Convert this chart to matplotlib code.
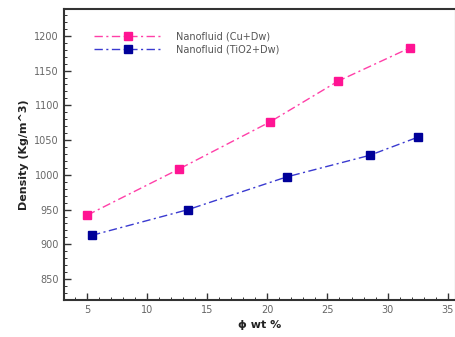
import matplotlib.pyplot as plt
from matplotlib.ticker import MultipleLocator

# Cu + Dw nanofluid
wt_cu = [5.0, 12.6, 20.2, 25.9, 31.9]
rho_cu = [942, 1008, 1076, 1135, 1183]

# TiO2 + Dw nanofluid
wt_tio2 = [5.4, 13.4, 21.6, 28.5, 32.5]
rho_tio2 = [913, 950, 997, 1028, 1054]

fig = plt.figure(figsize=(4.56, 3.37), dpi=100)
ax = fig.add_axes([0.140, 0.110, 0.860, 0.862])

dashdot = (0, (6, 2.5, 1.5, 2.5))
ax.plot(wt_cu, rho_cu, linestyle=dashdot, color='#ff3fa8', lw=1.0,
        marker='s', markersize=6, markerfacecolor='#ff1493',
        markeredgecolor='#ff1493', label='Nanofluid (Cu+Dw)')
ax.plot(wt_tio2, rho_tio2, linestyle=dashdot, color='#3a3ad0', lw=1.0,
        marker='s', markersize=6, markerfacecolor='#000099',
        markeredgecolor='#000099', label='Nanofluid (TiO2+Dw)')

ax.set_xlim(3.05, 35.7)
ax.set_ylim(820, 1238)
ax.xaxis.set_major_locator(MultipleLocator(5))
ax.xaxis.set_minor_locator(MultipleLocator(1))
ax.yaxis.set_major_locator(MultipleLocator(50))
ax.yaxis.set_minor_locator(MultipleLocator(10))
ax.tick_params(which='both', direction='in', top=False, right=False,
               labelsize=7, labelcolor='#666666', color='#333333')
ax.tick_params(which='major', length=5, width=1.0)
ax.tick_params(which='minor', length=2.5, width=0.7)

for s in ax.spines.values():
    s.set_linewidth(1.5)
    s.set_color('#333333')

ax.set_xlabel('ϕ wt %', fontsize=8, color='#222222', fontweight='bold')
ax.set_ylabel('Density (Kg/m^3)', fontsize=8, color='#222222', fontweight='bold')

ax.legend(loc='upper left', bbox_to_anchor=(0.055, 0.955), frameon=False,
          fontsize=7, labelcolor='#555555', handlelength=7.0,
          handletextpad=1.4, labelspacing=0.35)

fig.savefig('out.png', dpi=100)
